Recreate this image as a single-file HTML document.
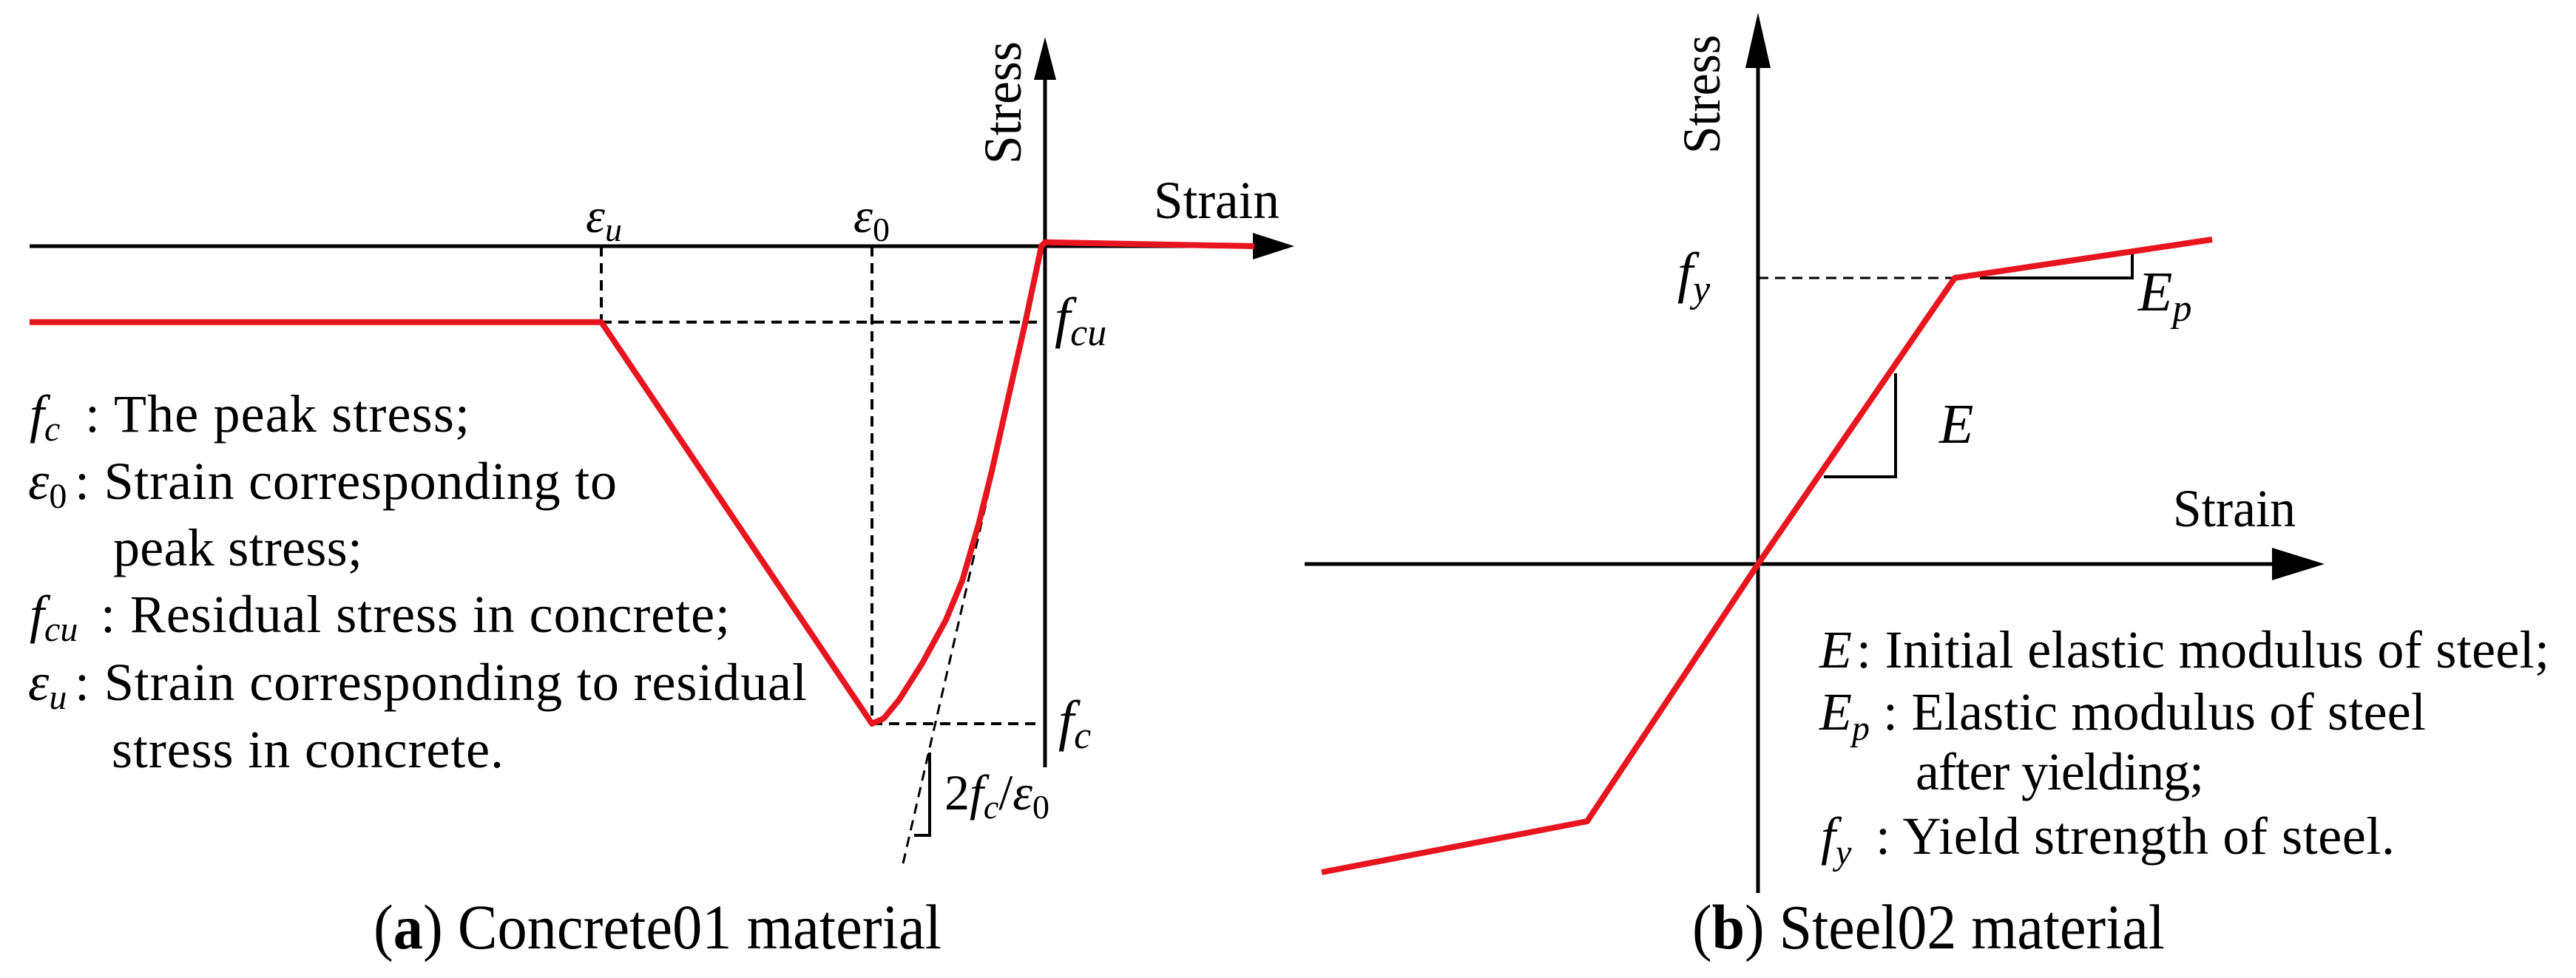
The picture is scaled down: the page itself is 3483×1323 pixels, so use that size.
<!DOCTYPE html>
<html><head><meta charset="utf-8"><style>
html,body{margin:0;padding:0;background:#fff;}
svg{display:block;}
text{font-family:"Liberation Serif",serif;fill:#000;}
</style></head><body>
<svg id="fig" width="3483" height="1323" viewBox="0 0 3483 1323" xmlns="http://www.w3.org/2000/svg">
<!-- Panel a -->
<g>
<line x1="40" y1="333" x2="1740" y2="333" stroke="#000" stroke-width="5"/>
<path d="M1694,315 L1694,351 L1750,333 z" fill="#000"/>
<line x1="1413" y1="100" x2="1413" y2="1038" stroke="#000" stroke-width="5"/>
<path d="M1398,108 L1428,108 L1413,50 z" fill="#000"/>
<text transform="translate(1380,222) rotate(-90)" font-size="72" textLength="166" lengthAdjust="spacingAndGlyphs">Stress</text>
<text x="1560" y="295" font-size="72" textLength="170" lengthAdjust="spacingAndGlyphs">Strain</text>
<text x="792" y="314" font-size="66" font-style="italic">ε<tspan font-size="46" dy="12">u</tspan></text>
<text x="1154" y="314" font-size="66" font-style="italic">ε<tspan font-size="46" dy="12" font-style="normal">0</tspan></text>
<g id="dashA" stroke="#000" stroke-width="4" stroke-dasharray="14,9" fill="none"></g>
<path id="tan" d="M1221,1168 L1345,630" stroke="#000" stroke-width="3" stroke-dasharray="14,9" fill="none"/>
<path d="M1257,1018 L1257,1130 L1236,1130" stroke="#000" stroke-width="4" fill="none"/>
<text x="1277" y="1095" font-size="68" font-style="italic"><tspan font-style="normal">2</tspan>f<tspan font-size="46" dy="12">c</tspan><tspan dy="-12" font-style="normal">/</tspan>ε<tspan font-size="46" dy="12" font-style="normal">0</tspan></text>
<text x="1426" y="455" font-size="76" font-style="italic">f<tspan font-size="52" dy="12">cu</tspan></text>
<text x="1431" y="1000" font-size="76" font-style="italic">f<tspan font-size="52" dy="12">c</tspan></text>
<path id="curveA" fill="none" stroke="#e8141e" stroke-width="8" stroke-linejoin="round"/>
<g font-size="72">
<text x="40" y="584" font-style="italic">f<tspan font-size="48" dy="12">c</tspan></text>
<text x="115" y="584" textLength="520" lengthAdjust="spacing">: The peak stress;</text>
<text x="38" y="675" font-style="italic">ε<tspan font-size="48" dy="12" font-style="normal">0</tspan></text>
<text x="101" y="675" textLength="733" lengthAdjust="spacing">: Strain corresponding to</text>
<text x="153" y="765" textLength="337" lengthAdjust="spacing">peak stress;</text>
<text x="40" y="855" font-style="italic">f<tspan font-size="48" dy="12">cu</tspan></text>
<text x="136" y="855" textLength="851" lengthAdjust="spacing">: Residual stress in concrete;</text>
<text x="38" y="947" font-style="italic">ε<tspan font-size="48" dy="12">u</tspan></text>
<text x="101" y="947" textLength="990" lengthAdjust="spacing">: Strain corresponding to residual</text>
<text x="151" y="1038" textLength="530" lengthAdjust="spacing">stress in concrete.</text>
</g>
<text x="505" y="1283" font-size="86" textLength="768" lengthAdjust="spacingAndGlyphs">(<tspan font-weight="bold">a</tspan>) Concrete01 material</text>
</g>
<!-- Panel b -->
<g>
<line x1="1764" y1="763" x2="3090" y2="763" stroke="#000" stroke-width="5"/>
<path d="M3072,741 L3072,785 L3143,763 z" fill="#000"/>
<line x1="2377" y1="80" x2="2377" y2="1208" stroke="#000" stroke-width="5"/>
<path d="M2360,92 L2394,92 L2377,17 z" fill="#000"/>
<text transform="translate(2325,208) rotate(-90)" font-size="72" textLength="161" lengthAdjust="spacingAndGlyphs">Stress</text>
<text x="2938" y="712" font-size="72" textLength="166" lengthAdjust="spacingAndGlyphs">Strain</text>
<line x1="2377" y1="376" x2="2643" y2="376" stroke="#000" stroke-width="3" stroke-dasharray="14,9"/>
<text x="2268" y="394" font-size="76" font-style="italic">f<tspan font-size="52" dy="14">y</tspan></text>
<path d="M2677,376 L2883,376 L2883,343" stroke="#000" stroke-width="4" fill="none"/>
<text x="2891" y="420" font-size="76" font-style="italic">E<tspan font-size="52" dy="14">p</tspan></text>
<path d="M2563,505 L2563,645 L2466,645" stroke="#000" stroke-width="4" fill="none"/>
<text x="2622" y="599" font-size="76" font-style="italic">E</text>
<path id="curveB" fill="none" stroke="#e8141e" stroke-width="8" stroke-linejoin="round"/>
<g font-size="72">
<text x="2460" y="903" font-style="italic">E</text>
<text x="2510" y="903" textLength="937" lengthAdjust="spacing">: Initial elastic modulus of steel;</text>
<text x="2460" y="987" font-style="italic">E<tspan font-size="48" dy="14">p</tspan></text>
<text x="2546" y="987" textLength="734" lengthAdjust="spacing">: Elastic modulus of steel</text>
<text x="2590" y="1068" textLength="390" lengthAdjust="spacing">after yielding;</text>
<text x="2462" y="1155" font-style="italic">f<tspan font-size="48" dy="14">y</tspan></text>
<text x="2536" y="1155" textLength="702" lengthAdjust="spacing">: Yield strength of steel.</text>
</g>
<text x="2288" y="1283" font-size="86" textLength="639" lengthAdjust="spacingAndGlyphs">(<tspan font-weight="bold">b</tspan>) Steel02 material</text>
</g>
</svg>
<script>
// Concrete01 (normalized units: strain / eps0, stress / fc)
const concreteStrain = [-5.868, -2.564, -1.0, -0.932, -0.842, -0.709, -0.573, -0.479, -0.385, -0.308, -0.214, -0.115, -0.021, 0, 1.21];
const concreteStress = [-0.159, -0.159, -1.0, -0.989, -0.949, -0.873, -0.783, -0.701, -0.584, -0.472, -0.320, -0.161, 0, 0.008, 0];
const concreteEps0 = -1.0;
const concreteEpsU = -2.564;
const concreteFc = -1.0;
const concreteFcu = -0.159;
// Steel02 (arbitrary units)
const steelStrain = [-5.90, -2.31, 0, 2.66, 6.14];
const steelStress = [-4.17, -3.48, 0, 3.87, 4.39];

const ax = s => 1413 + s * 234;
const ay = v => 333 - v * 646;
const bx = s => 2377 + s * 100;
const by = v => 763 - v * 100;

document.getElementById('curveA').setAttribute('d',
  concreteStrain.map((s, i) => (i ? 'L' : 'M') + ax(s).toFixed(1) + ',' + ay(concreteStress[i]).toFixed(1)).join(' '));
document.getElementById('curveB').setAttribute('d',
  steelStrain.map((s, i) => (i ? 'L' : 'M') + bx(s).toFixed(1) + ',' + by(steelStress[i]).toFixed(1)).join(' '));

const g = document.getElementById('dashA');
const dl = (x1, y1, x2, y2, name) => {
  const l = document.createElementNS('http://www.w3.org/2000/svg', 'line');
  l.setAttribute('x1', x1); l.setAttribute('y1', y1); l.setAttribute('x2', x2); l.setAttribute('y2', y2);
  
  
  g.appendChild(l);
};
dl(ax(concreteEpsU), ay(0), ax(concreteEpsU), ay(concreteFcu), 'eps-u-dashed');
dl(ax(concreteEpsU), ay(concreteFcu), ax(0), ay(concreteFcu), 'fcu-dashed');
dl(ax(concreteEps0), ay(0), ax(concreteEps0), ay(concreteFc), 'eps-0-dashed');
dl(ax(concreteEps0), ay(concreteFc), ax(-0.04), ay(concreteFc), 'fc-dashed');
</script>
</body></html>
